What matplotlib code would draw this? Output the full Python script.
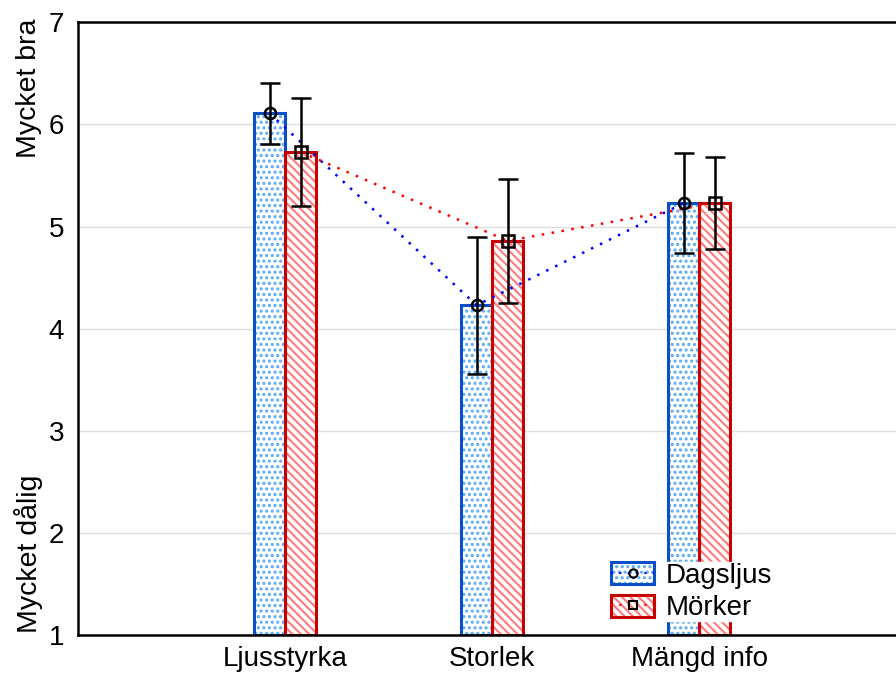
import numpy as np
import matplotlib
matplotlib.use("Agg")
import matplotlib.pyplot as plt
from matplotlib.patches import Patch
from matplotlib.lines import Line2D

plt.rcParams['font.family'] = ['Liberation Sans', 'DejaVu Sans']
plt.rcParams['hatch.linewidth'] = 1.5

# medelvärden och felstaplar per kategori
categories = ["Ljusstyrka", "Storlek", "Mängd info"]
dag_mean = [6.11, 4.23, 5.23]
dag_err = [0.30, 0.67, 0.49]
mork_mean = [5.73, 4.86, 5.23]
mork_err = [0.53, 0.61, 0.45]
series_names = ["Dagsljus", "Mörker"]

x = np.arange(len(categories))
w = 0.15

fig = plt.figure(figsize=(8.96, 6.75), dpi=100)
ax = fig.add_axes([0.087, 0.059, 0.913, 0.908])

blue_edge = "#0a4fc8"
blue_fill = "#5aaaf2"
red_edge = "#c80000"
red_fill = "#ff7a7a"
dot_hatch = "..."
line_hatch = "\\\\\\\\"

# staplar: mönster först, kant ovanpå
ax.bar(x - w / 2, np.array(dag_mean) - 1, w, bottom=1, color="white",
       edgecolor=blue_fill, hatch=dot_hatch, linewidth=0, zorder=2)
ax.bar(x - w / 2, np.array(dag_mean) - 1, w, bottom=1, fill=False,
       edgecolor=blue_edge, linewidth=2.2, zorder=3)
ax.bar(x + w / 2, np.array(mork_mean) - 1, w, bottom=1, color="white",
       edgecolor=red_fill, hatch=line_hatch, linewidth=0, zorder=2)
ax.bar(x + w / 2, np.array(mork_mean) - 1, w, bottom=1, fill=False,
       edgecolor=red_edge, linewidth=2.2, zorder=3)

# linjer mellan medelvärden
ax.plot(x - w / 2, dag_mean, linestyle=(0, (1, 3)), color="blue", lw=1.8, zorder=4)
ax.plot(x + w / 2, mork_mean, linestyle=(0, (1, 3)), color="red", lw=1.8, zorder=4)

ax.errorbar(x - w / 2, dag_mean, yerr=dag_err, fmt="o", mfc="none", mec="black",
            ms=8, mew=1.8, ecolor="black", elinewidth=1.8, capsize=7.5, capthick=1.8, zorder=5)
ax.errorbar(x + w / 2, mork_mean, yerr=mork_err, fmt="s", mfc="none", mec="black",
            ms=8, mew=1.8, ecolor="black", elinewidth=1.8, capsize=7.5, capthick=1.8, zorder=5)

ax.set_xlim(-1.0, 2.95)
ax.set_ylim(1, 7)
ax.set_xticks(x)
ax.set_xticklabels(categories, fontsize=20)
ax.set_yticks(range(1, 8))
ax.tick_params(axis="y", labelsize=20, length=0, pad=10)
ax.tick_params(axis="x", length=0, pad=8)
ax.grid(axis="y", color="#dddddd", lw=1, zorder=0)
ax.set_axisbelow(True)
for s in ax.spines.values():
    s.set_linewidth(1.8)
    s.set_zorder(11)
ax.spines["right"].set_visible(False)

fig.text(0.032, 0.972, "Mycket bra", rotation=90, fontsize=20.5, ha="center", va="top")
fig.text(0.032, 0.062, "Mycket dålig", rotation=90, fontsize=20.5, ha="center", va="bottom")

h_dag = (Patch(facecolor="white", edgecolor=blue_fill, hatch=dot_hatch, lw=0),
         Patch(fill=False, edgecolor=blue_edge, lw=2.2),
         Line2D([], [], linestyle=(0, (1, 3)), color="blue", marker="o",
                mfc="none", mec="black", ms=6, mew=1.5))
h_mork = (Patch(facecolor="white", edgecolor=red_fill, hatch=line_hatch, lw=0),
          Patch(fill=False, edgecolor=red_edge, lw=2.2),
          Line2D([], [], linestyle=(0, (1, 3)), color="red", marker="s",
                 mfc="none", mec="black", ms=6, mew=1.5))
leg = ax.legend([h_dag, h_mork], series_names, loc="lower left",
                bbox_to_anchor=(0.635, 0.0), fontsize=20, frameon=True,
                framealpha=1, edgecolor="white", fancybox=False,
                handlelength=1.55, handleheight=0.85, labelspacing=0.2,
                handletextpad=0.4, borderpad=0.0)
leg.set_zorder(10)

fig.savefig("out.png", dpi=100)
